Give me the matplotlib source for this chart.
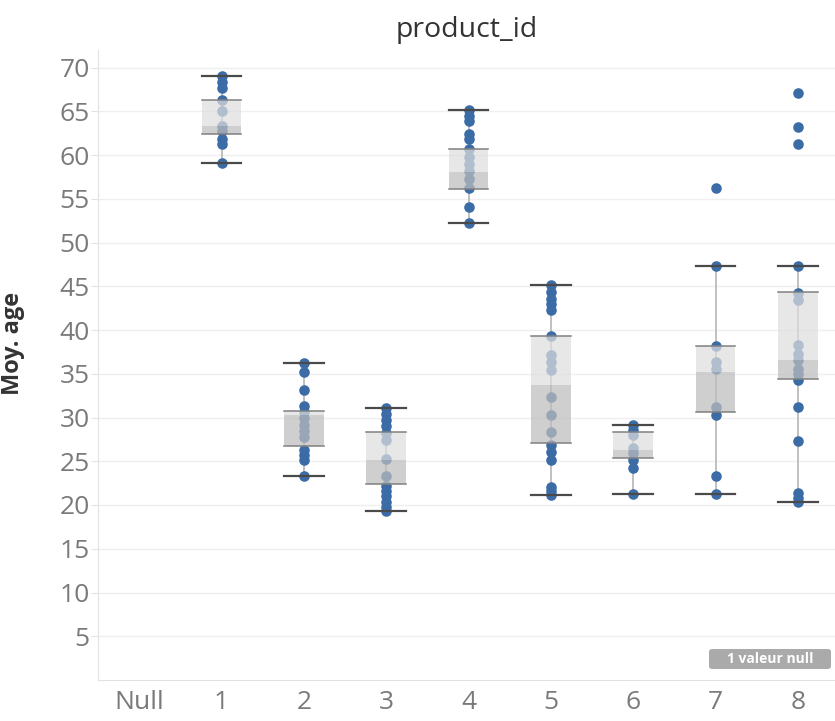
import numpy as np
import matplotlib.pyplot as plt
from matplotlib.patches import FancyBboxPatch

plt.rcParams['font.family'] = ['Open Sans', 'DejaVu Sans']

# Catégories (product_id)
categories = ["Null", "1", "2", "3", "4", "5", "6", "7", "8"]

# Moyenne d'âge par client
ages_p1 = [69.0, 68.4, 67.7, 66.3, 65.0, 63.3, 62.8, 61.8, 61.3, 59.1]
ages_p2 = [36.2, 35.2, 33.2, 31.3, 30.6, 30.0, 29.2, 28.5, 27.8, 26.3, 25.7, 25.2, 23.3]
ages_p3 = [31.1, 30.4, 29.7, 29.0, 28.2, 27.4, 25.3, 23.3, 22.2, 21.6, 21.0, 20.4, 19.8, 19.3]
ages_p4 = [65.1, 64.5, 63.9, 62.4, 61.8, 60.7, 59.8, 59.0, 58.2, 57.3, 56.2, 54.1, 52.2]
ages_p5 = [45.2, 44.3, 43.6, 43.0, 42.3, 39.3, 37.2, 36.4, 35.4, 32.3, 30.3, 28.3,
           26.9, 26.1, 25.2, 22.1, 21.6, 21.2]
ages_p6 = [29.2, 28.6, 28.0, 26.5, 26.0, 25.2, 24.2, 21.3]
ages_p7 = [56.2, 47.3, 38.2, 36.4, 35.6, 31.2, 30.3, 23.3, 21.3]
ages_p8 = [67.1, 63.2, 61.3, 47.3, 44.2, 43.4, 38.3, 37.3, 36.6, 35.6, 35.0, 34.3,
           31.2, 27.3, 21.4, 20.8, 20.3]
ages = [ages_p1, ages_p2, ages_p3, ages_p4, ages_p5, ages_p6, ages_p7, ages_p8]

# Statistiques des boîtes (produits 1 à 8)
q1 = [62.4, 26.7, 22.4, 56.1, 27.1, 25.4, 30.6, 34.4]
med = [63.3, 30.3, 25.2, 58.1, 33.7, 26.3, 35.2, 36.6]
q3 = [66.3, 30.8, 28.3, 60.7, 39.3, 28.3, 38.2, 44.3]
wlo = [59.1, 23.3, 19.3, 52.2, 21.2, 21.3, 21.3, 20.4]
whi = [69.0, 36.2, 31.1, 65.1, 45.2, 29.2, 47.3, 47.3]

blue = '#3b6ca6'
w = 0.48

fig = plt.figure(figsize=(8.35, 7.21), dpi=100)
ax = fig.add_axes([98 / 835, 41 / 721, 1 - 98 / 835, 630 / 721])

for i in range(len(ages)):
    x = i + 1
    ax.plot([x, x], [wlo[i], whi[i]], color='#b5b5b5', lw=1.2, zorder=1)
    ax.scatter(np.full(len(ages[i]), x), ages[i], s=58, color=blue, zorder=2,
               linewidths=0)
    ax.bar(x, q3[i] - med[i], bottom=med[i], width=w, color='#dedede', alpha=0.72,
           zorder=3)
    ax.bar(x, med[i] - q1[i], bottom=q1[i], width=w, color='#bdbdbd', alpha=0.72,
           zorder=3)
    for v in (q1[i], q3[i]):
        ax.plot([x - w / 2, x + w / 2], [v, v], color='#808080', lw=1.1, zorder=4)
    for v in (wlo[i], whi[i]):
        ax.plot([x - w / 2, x + w / 2], [v, v], color='#4a4a4a', lw=1.6, zorder=4)

ax.set_xlim(-0.5, 8.45)
ax.set_ylim(0, 72)
ax.set_yticks(np.arange(5, 71, 5))
ax.set_xticks(range(len(categories)))
ax.set_xticklabels(categories)
ax.grid(axis='y', color='#efefef', lw=1)
ax.set_axisbelow(True)
for s in ['top', 'right']:
    ax.spines[s].set_visible(False)
ax.spines['left'].set_color('#e2e2e2')
ax.spines['bottom'].set_color('#e2e2e2')
ax.tick_params(axis='y', colors='#e2e2e2', labelcolor='#7a7a7a', labelsize=19,
               length=5, pad=1)
ax.tick_params(axis='x', length=0, labelcolor='#7a7a7a', labelsize=19, pad=7)
ax.set_ylabel("Moy. age", fontsize=17, color='#333333', fontweight='bold')
ax.yaxis.set_label_coords(-0.099, 0.535)

fig.text(467 / 835, 1 - 30 / 721, "product_id", ha='center', va='center',
         fontsize=20.5, color='#333333')

badge = FancyBboxPatch((709 / 835, 52 / 721), 122 / 835, 20 / 721,
                       boxstyle='round,pad=0,rounding_size=0.004',
                       transform=fig.transFigure, facecolor='#aaaaaa',
                       edgecolor='none')
fig.patches.append(badge)
fig.text(770 / 835, 62 / 721, "1 valeur null", ha='center', va='center',
         fontsize=10, color='white', fontweight='bold')

fig.savefig("out.png", dpi=100)
